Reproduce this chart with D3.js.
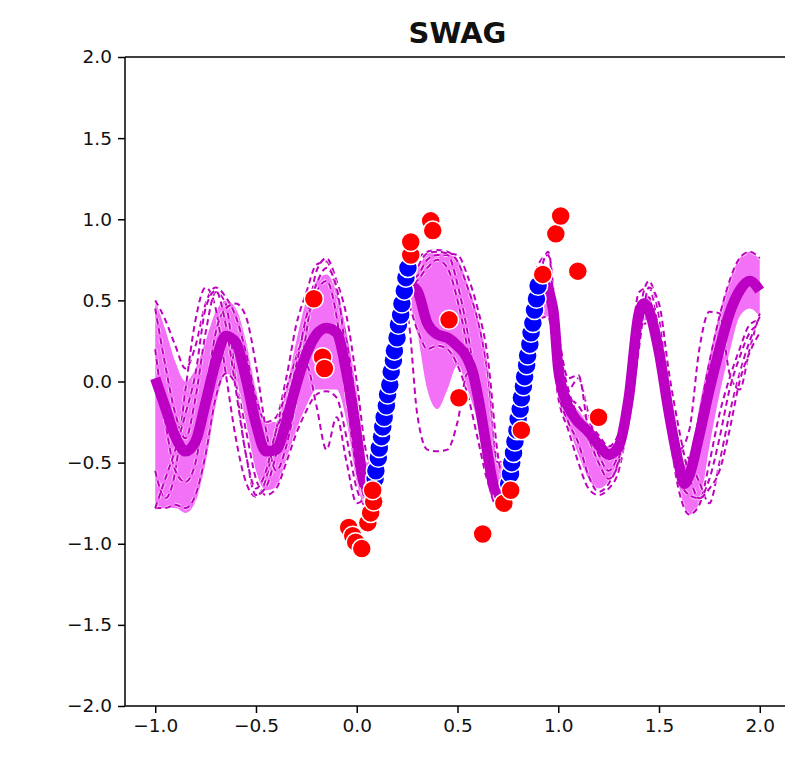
<!DOCTYPE html>
<html>
<head>
<meta charset="utf-8">
<script src="https://cdnjs.cloudflare.com/ajax/libs/d3/7.8.5/d3.min.js"></script>
<style>
  html, body { margin: 0; padding: 0; background: #fff; }
  svg { display: block; }
  text { font-family: "DejaVu Sans", sans-serif; }
</style>
</head>
<body>
<svg id="chart" width="785" height="767"></svg>
<script>
// ---- data ----
const titleText = "SWAG";
const xTicks = [-1.0, -0.5, 0.0, 0.5, 1.0, 1.5, 2.0];
const yTicks = [-2.0, -1.5, -1.0, -0.5, 0.0, 0.5, 1.0, 1.5, 2.0];

// predictive mean
const meanCurve = [
  [-1.00, 0.02], [-0.95, -0.16], [-0.90, -0.34], [-0.85, -0.43], [-0.80, -0.37],
  [-0.75, -0.13], [-0.70, 0.12], [-0.65, 0.28], [-0.60, 0.24], [-0.55, 0.02],
  [-0.50, -0.26], [-0.45, -0.43], [-0.40, -0.42], [-0.35, -0.25], [-0.30, -0.02],
  [-0.25, 0.17], [-0.20, 0.29], [-0.15, 0.33], [-0.10, 0.30], [-0.05, 0.05],
  [0.00, -0.33], [0.035, -0.62], [0.06, -0.66], [0.10, -0.47], [0.15, -0.10],
  [0.20, 0.27], [0.25, 0.60], [0.30, 0.56], [0.35, 0.36], [0.40, 0.29],
  [0.45, 0.27], [0.50, 0.22], [0.55, 0.14], [0.575, 0.06], [0.60, -0.08],
  [0.65, -0.45], [0.675, -0.62], [0.70, -0.68], [0.75, -0.58], [0.80, -0.20],
  [0.85, 0.18], [0.90, 0.52], [0.93, 0.60], [0.975, 0.44], [1.00, 0.08],
  [1.03, -0.09], [1.08, -0.22], [1.15, -0.31], [1.20, -0.39], [1.25, -0.45],
  [1.30, -0.40], [1.35, -0.10], [1.40, 0.42], [1.425, 0.48], [1.45, 0.44],
  [1.50, 0.18], [1.55, -0.20], [1.60, -0.52], [1.625, -0.63], [1.65, -0.58],
  [1.70, -0.33], [1.75, -0.05], [1.80, 0.20], [1.85, 0.42], [1.90, 0.56],
  [1.95, 0.62], [2.00, 0.56]
];

// predictive band: x, lower, upper
const bandX = [-1.00, -0.95, -0.90, -0.85, -0.80, -0.75, -0.70, -0.65, -0.60, -0.55,
  -0.50, -0.45, -0.40, -0.35, -0.30, -0.25, -0.20, -0.15, -0.10, -0.05,
  0.00, 0.05, 0.10, 0.15, 0.20, 0.25, 0.30, 0.35, 0.40, 0.45,
  0.50, 0.55, 0.60, 0.65, 0.70, 0.75, 0.80, 0.85, 0.90, 0.95,
  1.00, 1.05, 1.10, 1.15, 1.20, 1.25, 1.30, 1.35, 1.40, 1.45,
  1.50, 1.55, 1.60, 1.65, 1.70, 1.75, 1.80, 1.85, 1.90, 1.95, 2.00];
const bandLow = [-0.79, -0.78, -0.78, -0.81, -0.74, -0.50, -0.15, 0.05, 0.00, -0.25,
  -0.55, -0.67, -0.65, -0.48, -0.30, -0.15, -0.05, -0.05, -0.05, -0.25,
  -0.62, -0.78, -0.58, -0.20, 0.18, 0.50, 0.30, -0.05, -0.17, -0.05,
  0.10, -0.05, -0.25, -0.55, -0.74, -0.68, -0.30, 0.05, 0.40, 0.40,
  -0.10, -0.28, -0.45, -0.60, -0.66, -0.62, -0.52, -0.18, 0.36, 0.38,
  0.08, -0.28, -0.65, -0.82, -0.75, -0.40, -0.08, 0.18, 0.40, 0.45, 0.40];
const bandHigh = [0.50, 0.32, 0.12, 0.00, 0.08, 0.25, 0.43, 0.50, 0.45, 0.25,
  -0.05, -0.25, -0.25, -0.05, 0.25, 0.50, 0.62, 0.66, 0.55, 0.30,
  -0.05, -0.50, -0.35, 0.00, 0.38, 0.70, 0.70, 0.79, 0.79, 0.79,
  0.75, 0.60, 0.40, 0.10, -0.50, -0.45, -0.05, 0.35, 0.65, 0.70,
  0.20, -0.10, -0.18, -0.26, -0.35, -0.40, -0.35, 0.00, 0.50, 0.52,
  0.25, -0.15, -0.47, -0.52, -0.15, 0.15, 0.42, 0.62, 0.76, 0.80, 0.75];

// posterior function samples, one y per bandX
const sample1 = [0.50, 0.38, 0.22, 0.08, 0.22, 0.48, 0.58, 0.52, 0.40, 0.18,
  -0.10, -0.25, -0.22, 0.02, 0.35, 0.55, 0.72, 0.74, 0.55, 0.25,
  -0.15, -0.55, -0.40, -0.02, 0.38, 0.72, 0.76, 0.80, 0.81, 0.80,
  0.74, 0.58, 0.38, 0.05, -0.50, -0.45, -0.05, 0.38, 0.72, 0.78,
  0.22, -0.08, -0.15, -0.25, -0.33, -0.40, -0.32, 0.05, 0.55, 0.58,
  0.30, -0.10, -0.45, -0.50, -0.20, 0.12, 0.40, 0.62, 0.76, 0.80, 0.76];
const sample2 = [-0.78, -0.78, -0.76, -0.78, -0.70, -0.45, -0.10, 0.05, -0.02, -0.30,
  -0.60, -0.70, -0.66, -0.50, -0.32, -0.18, -0.08, -0.06, -0.10, -0.35,
  -0.66, -0.77, -0.58, -0.22, 0.15, 0.48, 0.32, 0.20, 0.22, 0.20,
  0.10, -0.08, -0.35, -0.62, -0.76, -0.70, -0.32, 0.02, 0.38, 0.40,
  -0.10, -0.30, -0.50, -0.66, -0.70, -0.66, -0.55, -0.20, 0.34, 0.36,
  0.05, -0.32, -0.68, -0.82, -0.76, -0.50, -0.20, 0.02, 0.20, 0.35, 0.38];
const sample3 = [-0.55, -0.72, -0.55, -0.05, 0.38, 0.58, 0.45, 0.05, -0.35, -0.62,
  -0.71, -0.60, -0.30, -0.05, 0.15, 0.35, 0.55, 0.62, 0.40, -0.10,
  -0.55, -0.72, -0.50, -0.12, 0.30, 0.40, -0.20, -0.42, -0.43, -0.42,
  -0.25, 0.05, -0.15, -0.55, -0.72, -0.62, -0.25, 0.15, 0.55, 0.62,
  0.05, -0.05, 0.02, -0.20, -0.42, -0.48, -0.38, -0.05, 0.45, 0.52,
  0.15, -0.22, -0.42, -0.30, 0.20, 0.43, 0.42, 0.05, -0.05, 0.20, 0.42];
const sample4 = [0.45, 0.10, -0.20, -0.35, -0.10, 0.30, 0.55, 0.48, 0.00, -0.45,
  -0.70, -0.65, -0.45, -0.20, 0.05, 0.10, -0.15, -0.42, -0.22, -0.50,
  -0.75, -0.70, -0.45, -0.08, 0.28, 0.62, 0.65, 0.75, 0.78, 0.78,
  0.60, 0.30, -0.10, -0.60, -0.77, -0.55, -0.15, 0.25, 0.60, 0.80,
  0.25, -0.05, -0.22, -0.35, -0.50, -0.60, -0.50, -0.15, 0.40, 0.62,
  0.40, -0.05, -0.40, -0.48, -0.62, -0.75, -0.50, -0.20, 0.05, 0.25, 0.40];
const sample5 = [0.20, -0.25, -0.55, -0.62, -0.50, -0.10, 0.30, 0.45, 0.48, 0.40,
  0.10, -0.30, -0.55, -0.40, -0.10, 0.30, 0.68, 0.76, 0.62, 0.40,
  0.00, -0.45, -0.55, -0.15, 0.22, 0.58, 0.70, 0.79, 0.80, 0.79,
  0.78, 0.65, 0.45, 0.15, -0.45, -0.70, -0.35, 0.10, 0.50, 0.70,
  0.30, 0.02, 0.04, -0.30, -0.45, -0.55, -0.45, -0.25, 0.20, 0.58,
  0.48, 0.05, -0.30, -0.58, -0.72, -0.60, -0.35, -0.05, 0.15, 0.30, 0.35];
const sample6 = [-0.78, -0.60, -0.42, -0.20, 0.05, 0.45, 0.56, 0.35, -0.05, -0.45,
  -0.66, -0.55, -0.30, -0.15, 0.10, 0.40, 0.60, 0.70, 0.58, 0.12,
  -0.45, -0.74, -0.52, -0.15, 0.25, 0.55, 0.62, 0.70, 0.75, 0.70,
  0.50, 0.20, -0.20, -0.55, -0.73, -0.65, -0.28, 0.12, 0.48, 0.60,
  -0.05, -0.25, -0.38, -0.58, -0.68, -0.63, -0.48, -0.10, 0.48, 0.50,
  0.20, -0.30, -0.60, -0.70, -0.72, -0.66, -0.55, -0.30, 0.00, 0.18, 0.30];
const samples = [sample1, sample2, sample3, sample4, sample5, sample6];

// training observations (blue)
const trainX = [0.083, 0.091, 0.095, 0.107, 0.112, 0.123, 0.129, 0.136, 0.147, 0.153,
  0.164, 0.171, 0.182, 0.187, 0.200, 0.207, 0.218, 0.224, 0.236, 0.244, 0.254,
  0.754, 0.763, 0.769, 0.778, 0.785, 0.795, 0.801, 0.811, 0.817, 0.827,
  0.833, 0.843, 0.848, 0.859, 0.865, 0.874, 0.882, 0.892, 0.900];
const trainY = [-0.66, -0.60, -0.55, -0.47, -0.41, -0.34, -0.28, -0.22, -0.15, -0.08,
  -0.02, 0.06, 0.13, 0.19, 0.27, 0.35, 0.41, 0.48, 0.56, 0.64, 0.70,
  -0.63, -0.57, -0.50, -0.44, -0.37, -0.30, -0.23, -0.17, -0.10, -0.03,
  0.03, 0.10, 0.16, 0.23, 0.30, 0.36, 0.44, 0.51, 0.59];

// held-out observations (red)
const testX = [-0.213, -0.170, -0.160, -0.040, -0.020, -0.005, 0.025, 0.055, 0.069, 0.084,
  0.079, 0.268, 0.268, 0.367, 0.377, 0.458, 0.507, 0.625, 0.730, 0.764,
  0.817, 0.923, 0.988, 1.012, 1.097, 1.200];
const testY = [0.51, 0.15, 0.08, -0.90, -0.95, -0.99, -1.03, -0.87, -0.81, -0.74,
  -0.67, 0.78, 0.86, 0.99, 0.93, 0.38, -0.10, -0.94, -0.75, -0.67,
  -0.30, 0.66, 0.91, 1.02, 0.68, -0.22];

// ---- layout ----
const svg = d3.select("#chart");
const plot = { left: 125, right: 790, top: 57, bottom: 706 };

const x = d3.scaleLinear().domain([-1.15, 2.15]).range([plot.left, plot.right]);
const y = d3.scaleLinear().domain([-2, 2]).range([plot.bottom, plot.top]);

const clipId = "plot-clip";
svg.append("defs").append("clipPath").attr("id", clipId)
  .append("rect")
  .attr("x", plot.left).attr("y", plot.top)
  .attr("width", plot.right - plot.left).attr("height", plot.bottom - plot.top);

const g = svg.append("g").attr("clip-path", `url(#${clipId})`);

const bandData = bandX.map((v, i) => ({ x: v, lo: bandLow[i], hi: bandHigh[i] }));

// uncertainty band
g.append("path")
  .datum(bandData)
  .attr("fill", "#f271f6")
  .attr("d", d3.area()
    .x(d => x(d.x)).y0(d => y(d.lo)).y1(d => y(d.hi))
    .curve(d3.curveMonotoneX));

// dashed function samples
const sampleLine = d3.line()
  .x(d => x(d[0])).y(d => y(d[1]))
  .curve(d3.curveMonotoneX);
samples.forEach(s => {
  const pts = bandX.map((v, i) => [v, s[i]]);
  g.append("path")
    .datum(pts)
    .attr("fill", "none")
    .attr("stroke", "#ffffff")
    .attr("stroke-opacity", 0.6)
    .attr("stroke-width", 4)
    .attr("stroke-dasharray", "6,4")
    .attr("d", sampleLine);
  g.append("path")
    .datum(pts)
    .attr("fill", "none")
    .attr("stroke", "#bf00bf")
    .attr("stroke-width", 2)
    .attr("stroke-dasharray", "6,4")
    .attr("d", sampleLine);
});

// predictive mean
g.append("path")
  .datum(meanCurve)
  .attr("fill", "none")
  .attr("stroke", "#bb00c3")
  .attr("stroke-width", 10.5)
  .attr("stroke-linejoin", "round")
  .attr("d", d3.line().x(d => x(d[0])).y(d => y(d[1])).curve(d3.curveMonotoneX));

// training points
g.selectAll("circle.train")
  .data(trainX.map((v, i) => [v, trainY[i]]))
  .join("circle")
  .attr("class", "train")
  .attr("cx", d => x(d[0])).attr("cy", d => y(d[1]))
  .attr("r", 9.5)
  .attr("fill", "#0000ff")
  .attr("stroke", "#ffffff")
  .attr("stroke-width", 1.5);

// held-out points
g.selectAll("circle.test")
  .data(testX.map((v, i) => [v, testY[i]]))
  .join("circle")
  .attr("class", "test")
  .attr("cx", d => x(d[0])).attr("cy", d => y(d[1]))
  .attr("r", 9.5)
  .attr("fill", "#ff0000")
  .attr("stroke", "#ffffff")
  .attr("stroke-width", 1.5);

// ---- axes ----
const fmt = d => d3.format(".1f")(d).replace("-", "\u2212");
const xAxis = d3.axisBottom(x).tickValues(xTicks).tickFormat(fmt)
  .tickSizeOuter(0).tickSize(7).tickPadding(6);
const yAxis = d3.axisLeft(y).tickValues(yTicks).tickFormat(fmt)
  .tickSizeOuter(0).tickSize(7).tickPadding(6);

const gx = svg.append("g").attr("transform", `translate(0,${plot.bottom})`).call(xAxis);
const gy = svg.append("g").attr("transform", `translate(${plot.left},0)`).call(yAxis);
[gx, gy].forEach(a => {
  a.select(".domain").remove();
  a.selectAll(".tick line").attr("stroke", "#000").attr("stroke-width", 1.5);
  a.selectAll(".tick text")
    .attr("fill", "#111")
    .style("font-family", "'DejaVu Sans', sans-serif")
    .style("font-size", "18.5px");
});

// spines
const spines = svg.append("g").attr("stroke", "#000").attr("stroke-width", 1.5).attr("fill", "none");
spines.append("line").attr("x1", plot.left).attr("x2", plot.left).attr("y1", plot.top).attr("y2", plot.bottom);
spines.append("line").attr("x1", plot.left).attr("x2", plot.right).attr("y1", plot.bottom).attr("y2", plot.bottom);
spines.append("line").attr("x1", plot.left).attr("x2", plot.right).attr("y1", plot.top).attr("y2", plot.top);
spines.append("line").attr("x1", plot.right).attr("x2", plot.right).attr("y1", plot.top).attr("y2", plot.bottom);

// title
svg.append("text")
  .attr("x", (plot.left + plot.right) / 2)
  .attr("y", 43)
  .attr("text-anchor", "middle")
  .style("font-family", "'DejaVu Sans', sans-serif")
  .style("font-weight", "bold")
  .style("font-size", "29px")
  .attr("fill", "#111")
  .text(titleText);
</script>
</body>
</html>
